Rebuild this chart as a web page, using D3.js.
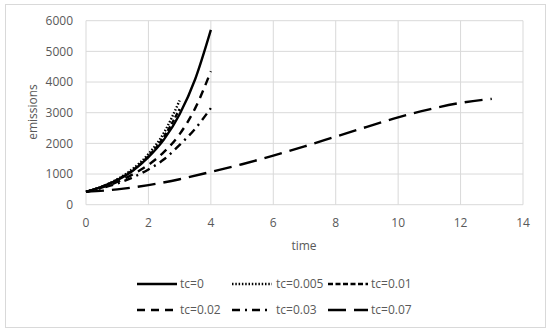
<!DOCTYPE html>
<html>
<head>
<meta charset="utf-8">
<script src="https://cdn.jsdelivr.net/npm/d3@7"></script>
<style>
  body { margin: 0; background: #fff; }
  svg text { font-family: "Open Sans", sans-serif; fill: #595959; }
</style>
</head>
<body>
<svg id="chart" width="550" height="334"></svg>
<script>
// values
var seriesNames = ["tc=0", "tc=0.005", "tc=0.01", "tc=0.02", "tc=0.03", "tc=0.07"]
var t0 = [0, 0.5, 1, 1.5, 2, 2.5, 3, 3.5, 4]
var e0 = [420, 580, 800, 1110, 1550, 2130, 2950, 4100, 5700]
var t005 = [0, 0.5, 1, 1.5, 2, 2.5, 3]
var e005 = [420, 590, 830, 1170, 1650, 2350, 3400]
var t01 = [0, 0.5, 1, 1.5, 2, 2.5, 3]
var e01 = [420, 585, 815, 1130, 1580, 2220, 3120]
var t02 = [0, 0.5, 1, 1.5, 2, 2.5, 3, 3.5, 4]
var e02 = [420, 560, 740, 990, 1300, 1720, 2300, 3150, 4350]
var t03 = [0, 0.5, 1, 1.5, 2, 2.5, 3, 3.5, 4]
var e03 = [420, 540, 690, 890, 1150, 1480, 1950, 2480, 3150]
var t07 = [0, 1, 2, 3, 4, 5, 6, 7, 8, 9, 10, 11, 12, 13]
var e07 = [420, 500, 640, 830, 1070, 1320, 1600, 1900, 2220, 2540, 2850, 3110, 3320, 3450]
var xTicks = [0, 2, 4, 6, 8, 10, 12, 14]
var yTicks = [0, 1000, 2000, 3000, 4000, 5000, 6000]

var times = [t0, t005, t01, t02, t03, t07]
var values = [e0, e005, e01, e02, e03, e07]
var dashes = ["none", "1.5,1.8", "5,2.5", "8,6", "8,5,2,5", "18,8"]

var svg = d3.select("#chart")

// outer frame
svg.append("rect")
  .attr("x", 5.5).attr("y", 4.5)
  .attr("width", 540).attr("height", 323)
  .attr("fill", "#fff").attr("stroke", "#d9d9d9")

var x = d3.scaleLinear().domain([0, 14]).range([86, 523])
var y = d3.scaleLinear().domain([0, 6000]).range([204.7, 20.7])

// gridlines
svg.append("g").selectAll("line").data(yTicks).enter().append("line")
  .attr("x1", x(0)).attr("x2", x(14))
  .attr("y1", function(d) { return y(d) }).attr("y2", function(d) { return y(d) })
  .attr("stroke", "#d9d9d9")
svg.append("g").selectAll("line").data(xTicks).enter().append("line")
  .attr("y1", y(0)).attr("y2", y(6000))
  .attr("x1", function(d) { return x(d) }).attr("x2", function(d) { return x(d) })
  .attr("stroke", "#d9d9d9")

// tick labels
svg.append("g").selectAll("text").data(yTicks).enter().append("text")
  .attr("x", 73).attr("y", function(d) { return y(d) + 4.3 })
  .attr("text-anchor", "end")
  .style("font-size", "12px")
  .text(function(d) { return d })
svg.append("g").selectAll("text").data(xTicks).enter().append("text")
  .attr("x", function(d) { return x(d) }).attr("y", 227)
  .attr("text-anchor", "middle")
  .style("font-size", "12px")
  .text(function(d) { return d })

// axis titles
svg.append("text")
  .attr("x", 304).attr("y", 250)
  .attr("text-anchor", "middle")
  .style("font-size", "12px")
  .text("time")
svg.append("text")
  .attr("transform", "translate(37,112) rotate(-90)")
  .attr("text-anchor", "middle")
  .style("font-size", "12px")
  .text("emissions")

// series
var line = d3.line()
  .x(function(d) { return x(d[0]) })
  .y(function(d) { return y(d[1]) })
  .curve(d3.curveMonotoneX)

for (var i = values.length - 1; i >= 0; i--) {
  var pts = times[i].map(function(t, j) { return [t, values[i][j]] })
  svg.append("path")
    .datum(pts)
    .attr("d", line)
    .attr("fill", "none")
    .attr("stroke", "#000")
    .attr("stroke-width", 2.4)
    .attr("stroke-dasharray", dashes[i])
}

// legend
var legX = [137, 232, 328]
var legY = [284, 310]
seriesNames.forEach(function(name, i) {
  var lx = legX[i % 3], ly = legY[Math.floor(i / 3)]
  svg.append("line")
    .attr("x1", lx).attr("x2", lx + 40)
    .attr("y1", ly).attr("y2", ly)
    .attr("stroke", "#000")
    .attr("stroke-width", 2.4)
    .attr("stroke-dasharray", dashes[i])
  svg.append("text")
    .attr("x", lx + (i % 3 == 1 ? 44 : 43)).attr("y", ly + 4.3)
    .style("font-size", "12px")
    .text(name)
})
</script>
</body>
</html>
